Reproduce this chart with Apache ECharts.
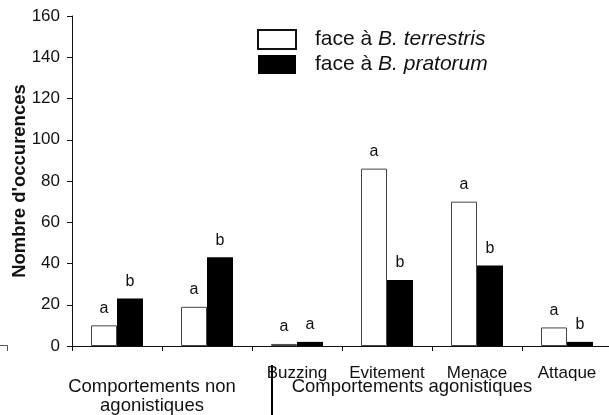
<!DOCTYPE html>
<html>
<head>
<meta charset="utf-8">
<script src="https://cdn.jsdelivr.net/npm/echarts@6/dist/echarts.min.js"></script>
<style>html,body{margin:0;padding:0;background:#fff;}#c{width:609px;height:415px;}</style>
</head>
<body>
<div id="c"></div>
<script>
const categories = ['', '', 'Buzzing', 'Evitement', 'Menace', 'Attaque'];
const seriesNames = ['face à B. terrestris', 'face à B. pratorum'];
const terrestris = [10, 19, 1, 86, 70, 9];
const pratorum = [23, 43, 2, 32, 39, 2];
const lettersTerrestris = ['a', 'a', 'a', 'a', 'a', 'a'];
const lettersPratorum = ['b', 'b', 'a', 'b', 'b', 'b'];
const groupLabels = ['Comportements non', 'agonistiques', 'Comportements agonistiques'];
const yTitle = "Nombre d'occurences";

const FONT = "'Liberation Sans', Arial, sans-serif";
const chart = echarts.init(document.getElementById('c'), null, {renderer: 'canvas'});

chart.setOption({
  animation: false,
  backgroundColor: '#fff',
  textStyle: {fontFamily: FONT, color: '#111'},
  grid: {left: 72, right: -3, top: 16, bottom: 69, containLabel: false, outerBoundsMode: 'none'},
  legend: {
    left: 257, top: 29, orient: 'vertical', padding: 0,
    itemWidth: 38, itemHeight: 19, itemGap: 4,
    icon: 'rect',
    data: [
      {name: seriesNames[0], itemStyle: {color: '#fff', borderColor: '#111', borderWidth: 2}},
      {name: seriesNames[1], itemStyle: {color: '#000', borderColor: '#000', borderWidth: 0}}
    ],
    formatter: n => n.replace(/^(face à )(.*)$/, '$1{i|$2}'),
    textStyle: {
      fontFamily: FONT, fontSize: 21, color: '#111', padding: [0, 0, 0, 14],
      rich: {i: {fontStyle: 'italic', fontFamily: FONT, fontSize: 21, color: '#111'}}
    }
  },
  xAxis: {
    type: 'category', data: categories,
    axisLine: {lineStyle: {color: '#111', width: 1}},
    axisTick: {show: true, length: 5, alignWithLabel: false, lineStyle: {color: '#111'}},
    axisLabel: {fontFamily: FONT, fontSize: 17, color: '#111', margin: 19, interval: 0}
  },
  yAxis: {
    type: 'value', min: 0, max: 160, interval: 20,
    name: yTitle, nameLocation: 'middle', nameGap: 43, nameMoveOverlap: false,
    nameTextStyle: {fontFamily: FONT, fontSize: 18.5, fontWeight: 'bold', color: '#111'},
    axisLine: {show: true, lineStyle: {color: '#111', width: 1}},
    axisTick: {show: true, length: 5, lineStyle: {color: '#111'}},
    axisLabel: {fontFamily: FONT, fontSize: 17, color: '#111', margin: 12},
    splitLine: {show: false}
  },
  series: [
    {
      name: seriesNames[0], type: 'bar', barWidth: 26, barGap: '0%',
      data: terrestris,
      itemStyle: {color: '#fff', borderColor: '#444', borderWidth: 1},
      label: {show: true, position: 'top', distance: 9, fontFamily: FONT, fontSize: 16, color: '#111',
        formatter: p => lettersTerrestris[p.dataIndex]}
    },
    {
      name: seriesNames[1], type: 'bar', barWidth: 26, barGap: '0%',
      data: pratorum,
      itemStyle: {color: '#000', borderColor: '#000', borderWidth: 0},
      label: {show: true, position: 'top', distance: 9, fontFamily: FONT, fontSize: 16, color: '#111',
        formatter: p => lettersPratorum[p.dataIndex]}
    }
  ],
  graphic: [
    {type: 'text', z: 10, style: {text: groupLabels[0], x: 152, y: 387, align: 'center', verticalAlign: 'middle', font: '18.5px ' + FONT, fill: '#111'}},
    {type: 'text', z: 10, style: {text: groupLabels[1], x: 152, y: 406, align: 'center', verticalAlign: 'middle', font: '18.5px ' + FONT, fill: '#111'}},
    {type: 'text', z: 10, style: {text: groupLabels[2], x: 412, y: 387, align: 'center', verticalAlign: 'middle', font: '18.5px ' + FONT, fill: '#111'}},
    {type: 'line', z: 20, shape: {x1: 272, y1: 365, x2: 272, y2: 415}, style: {stroke: '#000', lineWidth: 2}},
    {type: 'polyline', z: 20, shape: {points: [[0, 345.5], [7.5, 345.5], [7.5, 351]]}, style: {stroke: '#555', lineWidth: 1, fill: null}}
  ]
});
</script>
</body>
</html>
